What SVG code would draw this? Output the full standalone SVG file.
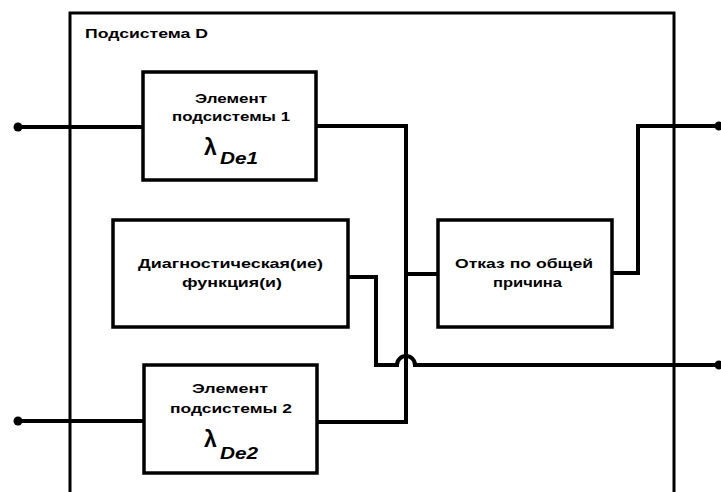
<svg xmlns="http://www.w3.org/2000/svg" width="721" height="492" viewBox="0 0 721 492">
<style>
.box{fill:#fff;stroke:#000;stroke-width:3.5}
.w{fill:none;stroke:#000;stroke-width:4;stroke-linejoin:miter}
.t{font-family:"Liberation Sans",Arial,sans-serif;font-weight:bold;font-size:13px;fill:#000}
.lam{font-family:"Liberation Sans",Arial,sans-serif;font-weight:bold;font-size:23px;fill:#000}
.sub{font-family:"Liberation Sans",Arial,sans-serif;font-weight:bold;font-style:italic;font-size:17px;fill:#000}
</style>
<rect width="721" height="492" fill="#fff"/>
<g id="subsystem">
<path d="M70,494 V13 H674 V494" fill="none" stroke="#000" stroke-width="3"/>
<text class="t" x="85" y="38" textLength="123" lengthAdjust="spacingAndGlyphs">Подсистема D</text>
</g>
<g id="connectors">
<path class="w" d="M18,127 H143"/>
<path class="w" d="M18,421 H144"/>
<path class="w" d="M316,126 H406 V422 H317"/>
<path class="w" d="M406,274 H438"/>
<path class="w" d="M612,273 H638 V126 H718"/>
<path class="w" d="M348,277 H376 V365 H397 A9,9 0 0 1 415,365 H718"/>
<circle cx="18" cy="127" r="4.5"/>
<circle cx="18" cy="421" r="4.5"/>
<circle cx="719" cy="126" r="4.5"/>
<circle cx="719" cy="365" r="4.5"/>
</g>
<g id="element1">
<rect class="box" x="143" y="72" width="173" height="108"/>
<text class="t" x="195" y="103" textLength="72" lengthAdjust="spacingAndGlyphs">Элемент</text>
<text class="t" x="172" y="121" textLength="118" lengthAdjust="spacingAndGlyphs">подсистемы 1</text>
<text class="lam" x="204" y="155">λ</text>
<text class="sub" x="220" y="164" textLength="38" lengthAdjust="spacingAndGlyphs">De1</text>
</g>
<g id="diagnostics">
<rect class="box" x="113" y="220" width="235" height="107"/>
<text class="t" x="138" y="268" textLength="185" lengthAdjust="spacingAndGlyphs">Диагностическая(ие)</text>
<text class="t" x="182" y="287" textLength="100" lengthAdjust="spacingAndGlyphs">функция(и)</text>
</g>
<g id="commoncause">
<rect class="box" x="438" y="220" width="174" height="107"/>
<text class="t" x="455" y="268" textLength="138" lengthAdjust="spacingAndGlyphs">Отказ по общей</text>
<text class="t" x="493" y="287" textLength="69" lengthAdjust="spacingAndGlyphs">причина</text>
</g>
<g id="element2">
<rect class="box" x="144" y="365" width="173" height="108"/>
<text class="t" x="192" y="393" textLength="76" lengthAdjust="spacingAndGlyphs">Элемент</text>
<text class="t" x="170" y="413" textLength="122" lengthAdjust="spacingAndGlyphs">подсистемы 2</text>
<text class="lam" x="204" y="447">λ</text>
<text class="sub" x="220" y="459" textLength="38" lengthAdjust="spacingAndGlyphs">De2</text>
</g>
</svg>
